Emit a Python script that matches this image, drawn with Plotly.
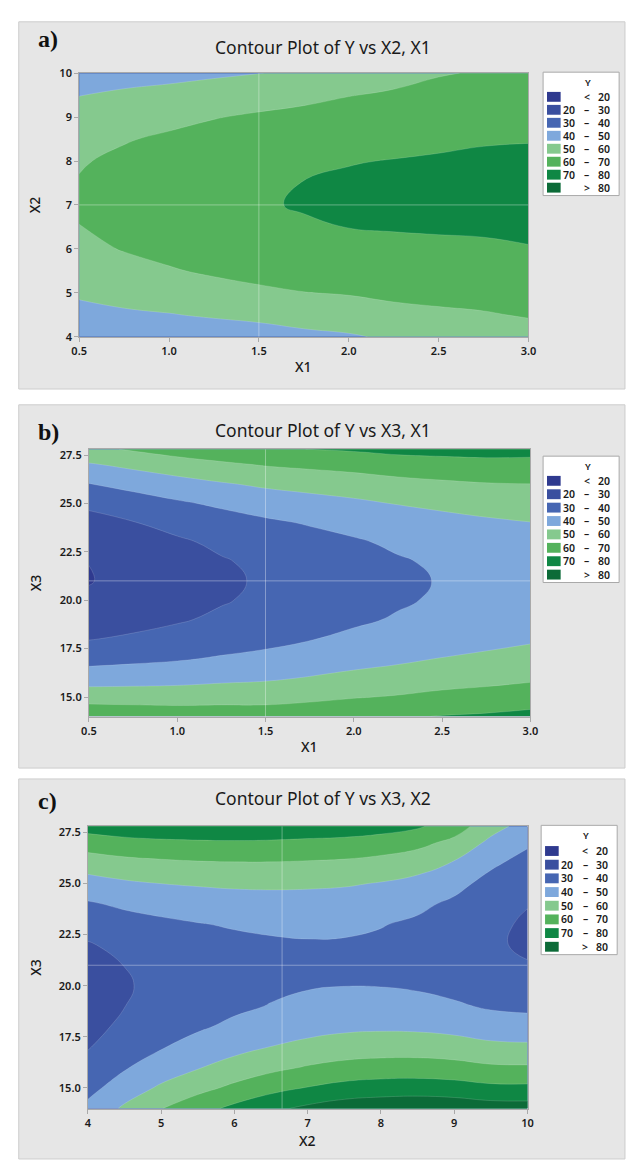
import plotly.graph_objects as go

W, H = 632, 1165

# ---------------- data ----------------
level_colors = ["#2f3a8f", "#3a4f9f", "#4666b2", "#7ea8dc",
                "#85c98e", "#54b25c", "#0f8744", "#0c6b38"]
legend_left = ["", "20", "30", "40", "50", "60", "70", ""]
legend_mid = ["<", "–", "–", "–", "–", "–", "–", ">"]
legend_right = ["20", "30", "40", "50", "60", "70", "80", "80"]

# panel a : Y vs X2 (rows), X1 (cols)
a_x1 = [0.5, 0.75, 1.0, 1.25, 1.5, 1.75, 2.0, 2.25, 2.5, 2.75, 3.0]
a_x2 = [4, 4.5, 5, 5.5, 6, 6.5, 7, 7.5, 8, 8.5, 9, 9.5, 10]
a_z = [
    [41.1, 42.4, 43.1, 44.3, 45.5, 47.6, 49.0, 51.4, 53.1, 54.4, 56.2],
    [46.8, 48.5, 49.6, 51.1, 52.5, 54.2, 55.4, 57.2, 58.4, 59.3, 60.7],
    [51.5, 53.5, 55.0, 56.7, 58.3, 59.8, 60.6, 62.0, 62.7, 63.3, 64.4],
    [55.3, 57.5, 59.3, 61.2, 62.9, 64.1, 64.9, 65.8, 66.2, 66.6, 67.4],
    [58.1, 60.4, 62.4, 64.5, 66.3, 67.4, 68.0, 68.6, 68.9, 69.1, 69.7],
    [59.9, 62.3, 64.5, 66.6, 68.5, 69.4, 70.1, 70.4, 70.6, 70.8, 71.2],
    [60.7, 63.2, 65.4, 67.6, 69.5, 70.4, 71.0, 71.3, 71.5, 71.7, 71.9],
    [60.5, 62.9, 65.1, 67.3, 69.2, 70.1, 70.9, 71.2, 71.5, 71.7, 71.9],
    [59.3, 61.7, 63.8, 65.9, 67.8, 68.7, 69.7, 70.2, 70.6, 71.0, 71.2],
    [57.1, 59.4, 61.3, 63.3, 65.1, 66.2, 67.5, 68.1, 68.9, 69.5, 69.7],
    [53.9, 56.0, 57.7, 59.6, 61.2, 62.5, 64.1, 65.1, 66.2, 67.2, 67.4],
    [49.8, 51.6, 53.0, 54.6, 56.1, 57.7, 59.7, 61.1, 63.2, 64.1, 64.4],
    [44.6, 46.1, 47.1, 48.5, 49.8, 51.7, 54.2, 57.0, 59.3, 60.8, 61.5],
]

# panel b : Y vs X3 (rows), X1 (cols)
b_x1 = [0.5, 0.75, 1.0, 1.25, 1.5, 1.75, 2.0, 2.25, 2.5, 2.75, 3.0]
b_x3 = [14, 15, 16, 17, 18, 19, 20, 21, 22, 23, 24, 25, 26, 27, 27.8]
b_z = [
    [67.8, 66.8, 65.9, 65.8, 65.4, 66.4, 67.9, 68.8, 70.4, 71.3, 72.8],
    [55.5, 55.4, 55.4, 56.0, 56.3, 57.7, 59.4, 60.7, 62.4, 63.5, 65.0],
    [45.1, 45.7, 46.4, 47.6, 48.6, 50.4, 52.3, 53.8, 55.7, 57.0, 58.4],
    [36.4, 37.7, 39.0, 40.8, 42.3, 44.3, 46.4, 48.2, 50.2, 51.6, 53.1],
    [29.6, 31.4, 33.3, 35.5, 37.4, 39.6, 41.9, 43.9, 45.9, 47.4, 48.9],
    [24.6, 26.8, 29.1, 31.6, 33.9, 36.3, 38.6, 40.8, 42.9, 44.5, 46.0],
    [21.3, 23.9, 26.6, 29.3, 31.8, 34.3, 36.7, 39.0, 41.1, 42.8, 44.3],
    [19.6, 22.7, 25.6, 28.5, 31.1, 33.6, 36.0, 38.4, 40.5, 42.3, 43.8],
    [20.1, 23.3, 26.3, 29.3, 31.9, 34.4, 36.8, 39.2, 41.3, 43.1, 44.6],
    [22.4, 25.6, 28.7, 31.7, 34.4, 36.8, 39.0, 41.5, 43.4, 45.2, 46.5],
    [26.4, 29.6, 32.8, 35.8, 38.5, 40.7, 42.8, 45.2, 47.0, 48.6, 49.8],
    [32.1, 35.4, 38.7, 41.6, 44.2, 46.2, 48.2, 50.4, 52.0, 53.4, 54.2],
    [39.7, 43.0, 46.2, 49.1, 51.6, 53.4, 55.0, 57.0, 58.4, 59.5, 59.9],
    [49.0, 52.3, 55.5, 58.2, 60.6, 62.0, 63.4, 65.1, 66.1, 66.9, 66.9],
    [57.8, 61.0, 64.2, 66.8, 69.0, 70.1, 71.1, 72.7, 73.3, 73.7, 73.3],
]

# panel c : Y vs X3 (rows), X2 (cols)
c_x2 = [4, 4.5, 5, 5.5, 6, 6.5, 7, 7.5, 8, 8.5, 9, 9.5, 10]
c_x3 = [14, 15, 16, 17, 18, 19, 20, 21, 22, 23, 24, 25, 26, 27, 27.8]
c_z = [
    [42.4, 51.6, 59.7, 66.3, 72.4, 77.8, 82.1, 85.4, 86.8, 87.5, 86.7, 84.8, 84.5],
    [37.1, 44.8, 51.5, 57.0, 62.2, 66.9, 70.5, 73.3, 74.6, 75.0, 74.2, 72.3, 72.1],
    [32.8, 39.2, 44.7, 49.4, 53.8, 57.6, 60.8, 63.0, 64.1, 64.3, 63.4, 61.5, 61.2],
    [29.5, 34.9, 39.4, 43.3, 47.0, 50.2, 52.7, 54.6, 55.3, 55.3, 54.3, 52.3, 51.8],
    [27.2, 31.8, 35.5, 38.8, 41.8, 44.4, 46.5, 47.9, 48.4, 48.1, 46.9, 44.8, 44.1],
    [25.9, 29.9, 33.0, 35.8, 38.3, 40.4, 42.1, 43.1, 43.2, 42.7, 41.2, 38.9, 37.9],
    [25.6, 29.3, 32.0, 34.4, 36.5, 38.2, 39.4, 39.9, 39.8, 39.0, 37.2, 34.6, 33.4],
    [26.7, 30.1, 32.5, 34.6, 36.3, 37.6, 38.5, 38.7, 38.2, 37.0, 34.9, 32.0, 30.4],
    [29.3, 32.4, 34.5, 36.3, 37.8, 38.8, 39.3, 39.2, 38.4, 36.8, 34.3, 31.0, 28.9],
    [33.4, 36.2, 38.1, 39.6, 40.8, 41.5, 41.8, 41.5, 40.4, 38.5, 35.5, 31.6, 29.0],
    [39.0, 41.6, 43.3, 44.5, 45.5, 45.9, 45.9, 45.4, 44.1, 41.9, 38.3, 33.5, 30.3],
    [46.2, 48.6, 50.1, 51.0, 51.7, 51.9, 51.6, 51.0, 49.5, 47.1, 42.9, 36.9, 32.9],
    [54.8, 57.0, 58.2, 59.1, 59.5, 59.5, 59.0, 58.3, 56.7, 54.1, 49.3, 41.7, 36.6],
    [65.0, 67.0, 68.1, 68.7, 69.0, 68.7, 68.0, 67.3, 65.7, 62.9, 57.4, 47.8, 41.5],
    [74.2, 76.2, 77.1, 77.6, 77.7, 77.3, 76.4, 75.7, 74.1, 71.3, 65.1, 53.7, 46.3],
]

# reference (hold) lines drawn in each panel
a_ref = (1.5, 7.0)
b_ref = (1.5, 21.0)
c_ref = (6.65, 21.0)

# ---------------- helpers ----------------
def px(x):
    return x / W

def py(y):
    return 1 - y / H

FONT = "Noto Sans"
TXT = "#1a1a1a"
colorscale = [[k / 7, c] for k, c in enumerate(level_colors)]

fig = go.Figure()
shapes = []
annotations = []

panels = [
    dict(name="a", x=a_x1, y=a_x2, z=a_z, ref=a_ref,
         xdom=(73, 534), ydom=(66, 333), xr=[0.5, 3.0], yr=[4, 10],
         xt=[0.5, 1.0, 1.5, 2.0, 2.5, 3.0], yt=[4, 5, 6, 7, 8, 9, 10],
         xfmt=".1f", yfmt="d", xtitle="X1", ytitle="X2",
         title="Contour Plot of Y vs X2, X1", bg=(14, 386), title_y=40,
         lab_y=31, xtitle_y=363, leg=(549, 627, 65, 190), first=25),
    dict(name="b", x=b_x1, y=b_x3, z=b_z, ref=b_ref,
         xdom=(83, 536), ydom=(447, 718), xr=[0.5, 3.0], yr=[13.98, 27.8],
         xt=[0.5, 1.0, 1.5, 2.0, 2.5, 3.0], yt=[15, 17.5, 20, 22.5, 25, 27.5],
         xfmt=".1f", yfmt=".1f", xtitle="X1", ytitle="X3",
         title="Contour Plot of Y vs X3, X1", bg=(402, 770), title_y=427,
         lab_y=430, xtitle_y=748, leg=(549, 627, 454, 582), first=25),
    dict(name="c", x=c_x2, y=c_x3, z=c_z, ref=c_ref,
         xdom=(82, 533), ydom=(829, 1115), xr=[4, 10], yr=[13.99, 27.79],
         xt=[4, 5, 6, 7, 8, 9, 10], yt=[15, 17.5, 20, 22.5, 25, 27.5],
         xfmt="d", yfmt=".1f", xtitle="X2", ytitle="X3",
         title="Contour Plot of Y vs X3, X2", bg=(781, 1166), title_y=800,
         lab_y=803, xtitle_y=1147, leg=(547, 625, 828, 959), first=26),
]

layout_axes = {}
for i, p in enumerate(panels):
    n = "" if i == 0 else str(i + 1)
    xa, ya = "x" + n, "y" + n
    shapes.append(dict(type="rect", xref="paper", yref="paper",
                       x0=px(11), x1=px(633), y0=py(p["bg"][1]), y1=py(p["bg"][0]),
                       fillcolor="#e6e6e6", line=dict(color="#cdcdcd", width=1),
                       layer="below"))
    fig.add_trace(go.Contour(
        x=p["x"], y=p["y"], z=p["z"], xaxis=xa, yaxis=ya,
        colorscale=colorscale, autocontour=False,
        contours=dict(start=20, end=80, size=10, coloring="fill", showlines=True),
        line=dict(smoothing=1.3, width=0.5, color="rgba(255,255,255,0.3)"),
        showscale=False, hoverinfo="skip"))
    rx, ry = p["ref"]
    shapes.append(dict(type="line", xref=xa, yref=ya, x0=rx, x1=rx,
                       y0=p["yr"][0], y1=p["yr"][1],
                       line=dict(color="rgba(255,255,255,0.35)", width=1)))
    shapes.append(dict(type="line", xref=xa, yref=ya, x0=p["xr"][0], x1=p["xr"][1],
                       y0=ry, y1=ry,
                       line=dict(color="rgba(255,255,255,0.35)", width=1)))
    axis_common = dict(showgrid=False, zeroline=False, showline=True, mirror=True,
                       linecolor="#a9a9a9", linewidth=1, ticks="outside", ticklen=4,
                       tickcolor="#a9a9a9",
                       tickfont=dict(family=FONT, size=11, color=TXT, weight=600))
    layout_axes["xaxis" + n] = dict(axis_common, domain=[px(p["xdom"][0]), px(p["xdom"][1])],
                                    range=p["xr"], tickvals=p["xt"], tickformat=p["xfmt"],
                                    anchor=ya, fixedrange=True)
    layout_axes["yaxis" + n] = dict(axis_common, domain=[py(p["ydom"][1]), py(p["ydom"][0])],
                                    range=p["yr"], tickvals=p["yt"], tickformat=p["yfmt"],
                                    anchor=xa, fixedrange=True)
    annotations.append(dict(text=p["title"], xref="paper", yref="paper",
                            x=px(323), y=py(p["title_y"]), showarrow=False,
                            xanchor="center", yanchor="middle",
                            font=dict(family=FONT, size=17.5, color=TXT)))
    annotations.append(dict(text=p["name"] + ")", xref="paper", yref="paper",
                            x=px(29), y=py(p["lab_y"]), showarrow=False,
                            xanchor="left", yanchor="middle",
                            font=dict(family="Liberation Serif", size=24, color="#111",
                                      weight="bold")))
    xc = (p["xdom"][0] + p["xdom"][1]) / 2
    yc = (p["ydom"][0] + p["ydom"][1]) / 2
    annotations.append(dict(text=p["xtitle"], xref="paper", yref="paper",
                            x=px(xc), y=py(p["xtitle_y"]), showarrow=False,
                            xanchor="center", yanchor="middle",
                            font=dict(family=FONT, size=14, color=TXT, weight=500)))
    annotations.append(dict(text=p["ytitle"], xref="paper", yref="paper",
                            x=px(28), y=py(yc), showarrow=False, textangle=-90,
                            xanchor="center", yanchor="middle",
                            font=dict(family=FONT, size=14, color=TXT, weight=500)))
    # legend box
    lx0, lx1, ly0, ly1 = p["leg"]
    shapes.append(dict(type="rect", xref="paper", yref="paper",
                       x0=px(lx0), x1=px(lx1), y0=py(ly1), y1=py(ly0),
                       fillcolor="white", line=dict(color="#a9a9a9", width=1)))
    step = (ly1 - ly0 - p["first"] - 8) / 7.0
    annotations.append(dict(text="Y", xref="paper", yref="paper",
                            x=px(lx0 + 46), y=py(ly0 + 10), showarrow=False,
                            xanchor="center", yanchor="middle",
                            font=dict(family=FONT, size=9.5, color=TXT, weight=600)))
    lf = dict(family=FONT, size=10.5, color=TXT, weight=600)
    for k in range(8):
        cy = ly0 + p["first"] + k * step
        shapes.append(dict(type="rect", xref="paper", yref="paper",
                           x0=px(lx0 + 4), x1=px(lx0 + 18),
                           y0=py(cy + 5), y1=py(cy - 5),
                           fillcolor=level_colors[k], line=dict(width=0)))
        if legend_left[k]:
            annotations.append(dict(text=legend_left[k], xref="paper", yref="paper",
                                    x=px(lx0 + 35), y=py(cy), showarrow=False,
                                    xanchor="right", yanchor="middle", font=lf))
        annotations.append(dict(text=legend_mid[k], xref="paper", yref="paper",
                                x=px(lx0 + 45), y=py(cy), showarrow=False,
                                xanchor="center", yanchor="middle", font=lf))
        annotations.append(dict(text=legend_right[k], xref="paper", yref="paper",
                                x=px(lx0 + 71), y=py(cy), showarrow=False,
                                xanchor="right", yanchor="middle", font=lf))

fig.update_layout(width=W, height=H, margin=dict(l=0, r=0, t=0, b=0),
                  paper_bgcolor="white", plot_bgcolor="white",
                  showlegend=False, shapes=shapes, annotations=annotations,
                  hovermode=False, **layout_axes)

fig.write_html("out.html",
               config={"displayModeBar": False, "staticPlot": True},
               post_script="document.body.style.margin='0px';"
                           "document.body.style.overflow='hidden';")
